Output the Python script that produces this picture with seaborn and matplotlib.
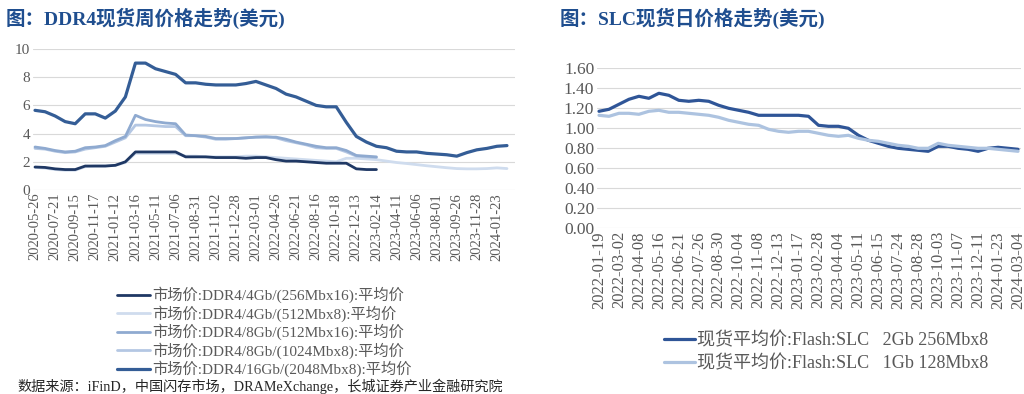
import numpy as np
import pandas as pd
import matplotlib
matplotlib.use("Agg")
import matplotlib.pyplot as plt
import seaborn as sns

# ---- DDR4 weekly spot prices, one value every 4 weeks (USD) ----
ddr4_ticks = [
    "2020-05-26", "2020-07-21", "2020-09-15", "2020-11-17", "2021-01-12",
    "2021-03-16", "2021-05-11", "2021-07-06", "2021-08-31", "2021-11-02",
    "2021-12-28", "2022-03-01", "2022-04-26", "2022-06-21", "2022-08-16",
    "2022-10-18", "2022-12-13", "2023-02-14", "2023-04-11", "2023-06-06",
    "2023-08-01", "2023-09-26", "2023-11-28", "2024-01-23",
]
na = np.nan
ddr4_4g_256x16 = [
    1.63, 1.60, 1.50, 1.45, 1.45, 1.70, 1.70, 1.70, 1.75, 2.00,
    2.70, 2.70, 2.70, 2.70, 2.70, 2.35, 2.35, 2.35, 2.30, 2.30,
    2.30, 2.25, 2.30, 2.30, 2.15, 2.05, 2.05, 2.00, 1.95, 1.90,
    1.90, 1.90, 1.50, 1.45, 1.45,
] + [na] * 13
ddr4_4g_512x8 = [
    1.60, 1.55, 1.45, 1.40, 1.40, 1.65, 1.70, 1.70, 1.75, 1.95,
    2.60, 2.60, 2.60, 2.60, 2.60, 2.40, 2.40, 2.35, 2.35, 2.35,
    2.35, 2.40, 2.40, 2.35, 2.30, 2.25, 2.20, 2.15, 2.10, 2.05,
    2.00, 2.25, 2.25, 2.20, 2.15, 2.05, 1.95, 1.88, 1.80, 1.72,
    1.65, 1.58, 1.52, 1.50, 1.50, 1.52, 1.57, 1.52,
]
ddr4_8g_512x16 = [
    3.05, 2.95, 2.80, 2.70, 2.75, 3.00, 3.05, 3.15, 3.50, 3.80,
    5.30, 5.00, 4.85, 4.75, 4.70, 3.90, 3.85, 3.80, 3.65, 3.65,
    3.65, 3.70, 3.75, 3.75, 3.75, 3.60, 3.40, 3.25, 3.10, 3.00,
    3.00, 2.80, 2.45, 2.40, 2.35,
] + [na] * 13
ddr4_8g_1024x8 = [
    2.95, 2.90, 2.75, 2.65, 2.70, 2.90, 3.00, 3.10, 3.40, 3.70,
    4.60, 4.60, 4.55, 4.50, 4.50, 3.85, 3.85, 3.75, 3.60, 3.60,
    3.65, 3.70, 3.75, 3.80, 3.70, 3.50, 3.35, 3.20, 3.00, 2.95,
    2.95, 2.70, 2.40, 2.35, 2.30,
] + [na] * 13
ddr4_16g_2048x8 = [
    5.65, 5.55, 5.25, 4.85, 4.70, 5.40, 5.40, 5.10, 5.60, 6.60,
    9.00, 9.00, 8.60, 8.40, 8.20, 7.60, 7.60, 7.50, 7.45, 7.45,
    7.45, 7.55, 7.70, 7.45, 7.20, 6.80, 6.60, 6.30, 6.00, 5.90,
    5.90, 4.80, 3.80, 3.40, 3.10, 3.00, 2.75, 2.70, 2.70, 2.60,
    2.55, 2.50, 2.40, 2.65, 2.85, 2.95, 3.10, 3.15,
]
ddr4_names = [
    "市场价:DDR4/4Gb/(256Mbx16):平均价",
    "市场价:DDR4/4Gb/(512Mbx8):平均价",
    "市场价:DDR4/8Gb/(512Mbx16):平均价",
    "市场价:DDR4/8Gb/(1024Mbx8):平均价",
    "市场价:DDR4/16Gb/(2048Mbx8):平均价",
]

# ---- SLC daily spot prices, sampled twice per tick interval (USD) ----
slc_ticks = [
    "2022-01-19", "2022-03-02", "2022-04-08", "2022-05-16", "2022-06-21",
    "2022-07-26", "2022-08-30", "2022-10-04", "2022-11-08", "2022-12-13",
    "2023-01-17", "2023-02-28", "2023-04-04", "2023-05-11", "2023-06-15",
    "2023-07-24", "2023-08-28", "2023-10-03", "2023-11-07", "2023-12-11",
    "2024-01-23", "2024-03-04",
]
slc_2g = [
    1.17, 1.19, 1.24, 1.29, 1.32, 1.30, 1.35, 1.33, 1.28, 1.27,
    1.28, 1.27, 1.23, 1.20, 1.18, 1.16, 1.13, 1.13, 1.13, 1.13,
    1.13, 1.12, 1.03, 1.02, 1.02, 1.00, 0.93, 0.88, 0.85, 0.82,
    0.80, 0.79, 0.78, 0.77, 0.82, 0.82, 0.80, 0.79, 0.77, 0.80,
    0.81, 0.80, 0.79,
]
slc_1g = [
    1.13, 1.12, 1.15, 1.15, 1.14, 1.17, 1.18, 1.16, 1.16, 1.15,
    1.14, 1.13, 1.11, 1.08, 1.06, 1.04, 1.03, 0.99, 0.97, 0.96,
    0.97, 0.97, 0.95, 0.93, 0.92, 0.93, 0.90, 0.88, 0.87, 0.85,
    0.83, 0.82, 0.80, 0.80, 0.85, 0.83, 0.82, 0.81, 0.80, 0.80,
    0.79, 0.78, 0.77,
]
slc_names = [
    "现货平均价:Flash:SLC   2Gb 256Mbx8",
    "现货平均价:Flash:SLC   1Gb 128Mbx8",
]

sns.set_theme(style="white")
plt.rcParams["font.family"] = ["Liberation Serif", "Noto Sans CJK SC"]

TITLE_C = "#1f4e8f"
TEXT_C = "#595959"
GRID_C = "#d9d9d9"

ddr4_colors = ["#1f3864", "#cfdcee", "#8faad0", "#b4c7e3", "#345d96"]
ddr4_widths = [2.0, 2.0, 2.0, 2.0, 2.3]
slc_colors = ["#2f5597", "#adc3e0"]

fig = plt.figure(figsize=(10.24, 3.94), dpi=100)
W, H = 1024, 394

# left panel
ax1 = fig.add_axes([33 / W, 1 - 190 / H, (515 - 33) / W, (190 - 49) / H])
ddr4 = pd.DataFrame({n: v for n, v in zip(ddr4_names, [
    ddr4_4g_256x16, ddr4_4g_512x8, ddr4_8g_512x16, ddr4_8g_1024x8, ddr4_16g_2048x8,
])})
ddr4["idx"] = np.arange(len(ddr4))
# draw lightest first, keep legend order as in the source
draw_order = [1, 3, 2, 0, 4]
for i in draw_order:
    name = ddr4_names[i]
    sns.lineplot(data=ddr4, x="idx", y=name, ax=ax1, color=ddr4_colors[i],
                 linewidth=ddr4_widths[i], label=name)
h, l = ax1.get_legend_handles_labels()
lookup = dict(zip(l, h))
ax1.set_ylim(0, 10)
ax1.set_xlim(-0.2, 47.8)
ax1.set_yticks([0, 2, 4, 6, 8, 10])
ax1.set_xticks(range(0, 2 * len(ddr4_ticks), 2))
ax1.set_xticklabels(ddr4_ticks, rotation=90)
ax1.legend([lookup[n] for n in ddr4_names], ddr4_names,
           loc="upper center", bbox_to_anchor=(264 / W, 1 - 279 / H),
           bbox_transform=fig.transFigure, frameon=False, fontsize=11,
           labelspacing=0.13, borderpad=0, handlelength=2.2, handletextpad=0.1,
           labelcolor=TEXT_C)
ax1.tick_params(axis="x", labelsize=10.5)
ax1.tick_params(axis="y", labelsize=11)

# right panel
ax2 = fig.add_axes([597 / W, 1 - 228.3 / H, (1021 - 597) / W, (228.3 - 68.3) / H])
slc = pd.DataFrame({slc_names[0]: slc_2g, slc_names[1]: slc_1g})
slc["idx"] = np.arange(len(slc))
for name, c in zip(slc_names, slc_colors):
    sns.lineplot(data=slc, x="idx", y=name, ax=ax2, color=c, linewidth=2.3, label=name)
ax2.set_ylim(0, 1.6)
ax2.set_xlim(-0.2, 42.3)
ax2.set_yticks(np.arange(0, 1.61, 0.2))
ax2.yaxis.set_major_formatter(matplotlib.ticker.FormatStrFormatter("%.2f"))
ax2.set_xticks(range(0, 2 * len(slc_ticks), 2))
ax2.set_xticklabels(slc_ticks, rotation=90)
ax2.legend(loc="upper center", bbox_to_anchor=(826 / W, 1 - 323 / H),
           bbox_transform=fig.transFigure, frameon=False, fontsize=13,
           labelspacing=0.3, borderpad=0, handlelength=1.7, handletextpad=0.1,
           labelcolor=TEXT_C)
ax2.tick_params(axis="x", labelsize=12)
ax2.tick_params(axis="y", labelsize=12.5)

for ax in (ax1, ax2):
    ax.set_xlabel("")
    ax.set_ylabel("")
    for s in ax.spines.values():
        s.set_visible(False)
    ax.grid(axis="y", color=GRID_C, linewidth=0.8)
    ax.grid(axis="x", visible=False)
    ax.tick_params(axis="both", length=0, labelcolor=TEXT_C, pad=2)

fig.text(6 / W, 1 - 18 / H, "图：DDR4现货周价格走势(美元)", fontsize=14,
         fontweight="bold", color=TITLE_C, va="center", ha="left")
fig.text(560 / W, 1 - 18 / H, "图：SLC现货日价格走势(美元)", fontsize=14,
         fontweight="bold", color=TITLE_C, va="center", ha="left")
fig.text(17 / W, 1 - 386 / H,
         "数据来源：iFinD，中国闪存市场，DRAMeXchange，长城证券产业金融研究院",
         fontsize=10.2, color="#262626", va="center", ha="left")

fig.savefig("out.png", dpi=100)
